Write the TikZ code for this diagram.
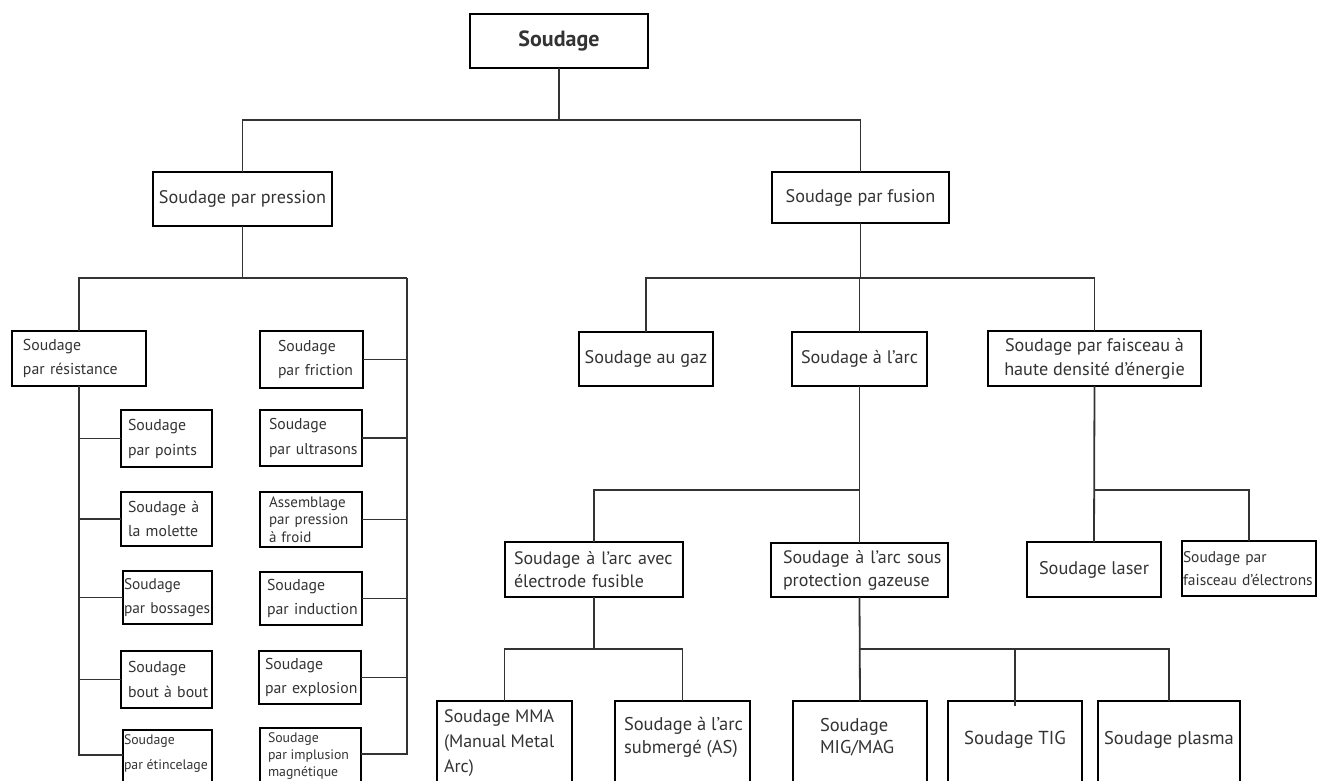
\documentclass[tikz,border=0pt]{standalone}
\usepackage{fontspec}
\setmainfont{PT Sans}
\newcommand\myfs[2]{\fontsize{#1pt}{#2pt}\selectfont}
\begin{document}
\begin{tikzpicture}[x=1pt,y=-1pt,
  box/.style={draw=black, line width=2.5pt, anchor=north west, inner sep=0pt, outer sep=0pt, text=black!80},
  cbox/.style n args={2}{box, minimum width=#1, minimum height=#2, align=center},
  lbox/.style n args={4}{box, minimum width=#1, minimum height=#2, inner xsep=#3, text width=#4, align=left},
  conn/.style={draw=black!80, line width=1.8pt}]
\useasboundingbox (0,0) rectangle (1326,780);
\clip (0,0) rectangle (1326,780);
\fill[white] (0,0) rectangle (1326,780);

% bus lines
\coordinate (bus1) at (0,120);
\coordinate (bus2) at (0,278);
\coordinate (trunkR) at (407,278);
\coordinate (bus4) at (0,490);
\coordinate (bus5) at (0,649);

% level 0-1
\node[cbox={178}{54}, font=\myfs{22}{26}\bfseries] (root) at (470,14) {Soudage};
\node[cbox={179}{54}, font=\myfs{18.2}{23}] (press) at (153,172) {Soudage par pression};
\node[cbox={177}{51}, font=\myfs{18.2}{23}] (fus) at (772,172) {Soudage par fusion};

% pressure, left column
\node[lbox={134}{55}{11}{112}, font=\myfs{15.8}{24}] (resist) at (12,331) {\mbox{Soudage}\\\mbox{par résistance}};
\node[lbox={91}{57}{7}{77}, font=\myfs{15.8}{25}] (points) at (121,410) {\mbox{Soudage}\\\mbox{par points}};
\node[lbox={91}{54}{7}{77}, font=\myfs{15.8}{24}] (molette) at (121,492) {\mbox{Soudage à}\\\mbox{la molette}};
\node[lbox={89}{53}{1}{87}, font=\myfs{15.4}{24}] (bossages) at (123,571) {\mbox{Soudage}\\\mbox{par bossages}};
\node[lbox={91}{57}{7}{77}, font=\myfs{15.8}{25}] (bout) at (121,651) {\mbox{Soudage}\\\mbox{bout à bout}};
\node[box, inner xsep=1, inner ysep=5, font=\myfs{13.8}{25}] (etinc) at (123,730)
  {\parbox[t][90pt][t]{87pt}{\raggedright\mbox{Soudage}\\\mbox{par étincelage}}};

% pressure, right column
\node[lbox={103}{57}{18}{67}, font=\myfs{15.7}{24}] (friction) at (260,331) {\mbox{Soudage}\\\mbox{par friction}};
\node[lbox={102}{56}{9}{84}, font=\myfs{15.7}{25}] (ultra) at (260,410) {\mbox{Soudage}\\\mbox{par ultrasons}};
\node[lbox={102}{55}{9}{84}, font=\myfs{15}{17.5}] (froid) at (260,492) {\mbox{Assemblage}\\\mbox{par pression}\\\mbox{à froid}};
\node[lbox={102}{53}{7}{88}, font=\myfs{15.8}{24}] (induct) at (260,572) {\mbox{Soudage}\\\mbox{par induction}};
\node[lbox={102}{53}{6}{90}, font=\myfs{15.8}{24}] (explo) at (259,651) {\mbox{Soudage}\\\mbox{par explosion}};
\node[box, inner xsep=8, inner ysep=4.5, font=\myfs{13.8}{17}] (implu) at (260,728)
  {\parbox[t][90pt][t]{85pt}{\raggedright\mbox{Soudage}\\\mbox{par implusion}\\\mbox{magnétique}}};

% fusion level 2
\node[cbox={134}{54}, font=\myfs{18.2}{23}] (gaz) at (579,332) {Soudage au gaz};
\node[cbox={135}{54}, font=\myfs{18.2}{23}] (arc) at (792,332) {Soudage à l’arc};
\node[cbox={213}{55}, font=\myfs{18.2}{24}] (faisc) at (988,331) {Soudage par faisceau à\\haute densité d’énergie};

% fusion level 3
\node[lbox={178}{55}{9}{160}, font=\myfs{18}{23}] (fusible) at (505,542) {\mbox{Soudage à l’arc avec}\\\mbox{électrode fusible}};
\node[lbox={177}{54}{12}{153}, font=\myfs{18}{23}] (gazeuse) at (771,543) {\mbox{Soudage à l’arc sous}\\\mbox{protection gazeuse}};
\node[cbox={134}{55}, font=\myfs{18.3}{23}] (laser) at (1027,542) {Soudage laser};
\node[lbox={134}{55}{1}{132}, font=\myfs{15.5}{23}] (elec) at (1182,541) {\mbox{Soudage par}\\\mbox{faisceau d’électrons}};

% fusion level 4 (cut by the lower edge)
\node[box, inner xsep=7, inner ysep=9, font=\myfs{18}{25}] (mma) at (437,701)
  {\parbox[t][90pt][t]{121pt}{\raggedright\mbox{Soudage MMA}\\\mbox{(Manual Metal}\\\mbox{Arc)}}};
\node[box, inner xsep=9, inner ysep=16, font=\myfs{18.5}{23}] (subm) at (615,701)
  {\parbox[t][90pt][t]{117pt}{\raggedright\mbox{Soudage à l’arc}\\\mbox{submergé (AS)}}};
\node[box, inner xsep=27, inner ysep=17, font=\myfs{18.5}{22}] (mig) at (793,701)
  {\parbox[t][90pt][t]{80pt}{\raggedright\mbox{Soudage}\\\mbox{MIG/MAG}}};
\node[box, inner xsep=0, inner ysep=30, font=\myfs{18.8}{22}] (tig) at (948,701)
  {\parbox[t][90pt][t]{134pt}{\centering Soudage TIG}};
\node[box, inner xsep=0, inner ysep=30, font=\myfs{18.5}{22}] (plasma) at (1098,701)
  {\parbox[t][90pt][t]{142pt}{\centering Soudage plasma}};

% connectors: top
\draw[conn] (root.south) -- (root.south |- bus1);
\draw[conn] (press.north) -- (press.north |- bus1) -- (fus.north |- bus1) -- (fus.north);

% pressure
\draw[conn] (press.south) -- (press.south |- bus2);
\draw[conn] (resist.north) -- (resist.north |- bus2) -- (trunkR);
\draw[conn] (trunkR) |- ([yshift=-26pt]implu.north east);
\draw[conn] (resist.south) |- ([yshift=-25pt]etinc.north west);
\foreach \n in {points,molette,bossages,bout}
  \draw[conn] (\n.west) -- (\n.west -| resist.south);
\foreach \n in {friction,ultra,froid,induct,explo}
  \draw[conn] (\n.east) -- (\n.east -| trunkR);

% fusion
\draw[conn] (fus.south) -- (fus.south |- bus2);
\draw[conn] (gaz.north) -- (gaz.north |- bus2) -- (faisc.north |- bus2) -- (faisc.north);
\draw[conn] (arc.north) -- (arc.north |- bus2);
\draw[conn] (arc.south) -- (gazeuse.north);
\draw[conn] (fusible.north) -- (fusible.north |- bus4) -- (arc.south |- bus4);
\draw[conn] (faisc.south) -- (laser.north);
\draw[conn] (laser.north |- bus4) -- (elec.north |- bus4) -- (elec.north);

\draw[conn] (fusible.south) -- (fusible.south |- bus5);
\draw[conn] (mma.north) -- (mma.north |- bus5) -- (subm.north |- bus5) -- (subm.north);
\draw[conn] (gazeuse.south) -- (mig.north);
\draw[conn] (mig.north |- bus5) -- (plasma.north |- bus5) -- (plasma.north);
\draw[conn] (tig.north |- bus5) -- ([yshift=-5pt]tig.north);
\end{tikzpicture}
\end{document}
